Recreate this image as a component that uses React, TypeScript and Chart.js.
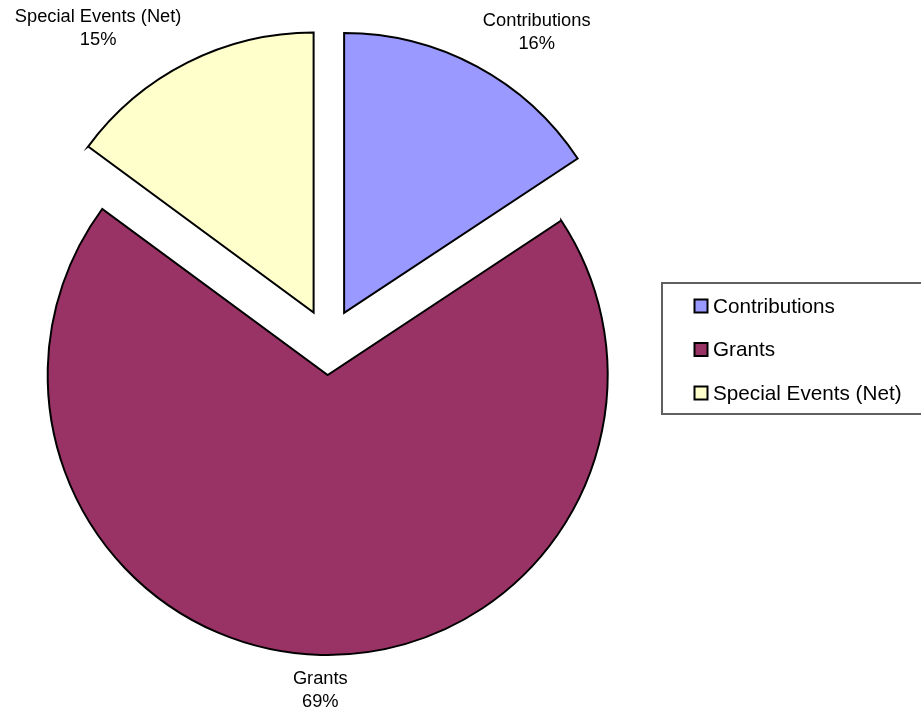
import React, { useEffect, useRef } from "react";
import { Chart, registerables } from "chart.js";

Chart.register(...registerables);

const categories = ["Contributions", "Grants", "Special Events (Net)"];
const shares = [15.7, 69.4, 14.9];
const sliceColors = ["#9999FF", "#993366", "#FFFFCC"];

const FONT = "'Liberation Sans', Arial, sans-serif";

const explodePlugin = {
  id: "explode",
  afterDatasetUpdate(chart: any, args: any, opts: any) {
    const d = opts.distance || 0;
    args.meta.data.forEach((el: any) => {
      const mid = (el.startAngle + el.endAngle) / 2;
      el.x += Math.cos(mid) * d;
      el.y += Math.sin(mid) * d;
    });
  },
};

const sliceLabelPlugin = {
  id: "sliceLabels",
  afterDatasetsDraw(chart: any, _args: any, opts: any) {
    const ctx = chart.ctx;
    const meta = chart.getDatasetMeta(0);
    const values: number[] = chart.data.datasets[0].data;
    const total = values.reduce((a, b) => a + b, 0);
    const gap = opts.gap;
    const lh = opts.lineHeight;
    ctx.save();
    ctx.font = `${opts.fontSize}px ${FONT}`;
    ctx.fillStyle = "#000";
    ctx.textAlign = "center";
    ctx.textBaseline = "middle";
    meta.data.forEach((el: any, i: number) => {
      const mid = (el.startAngle + el.endAngle) / 2;
      const c = Math.cos(mid);
      const s = Math.sin(mid);
      const px = el.x + c * (el.outerRadius + gap);
      const py = el.y + s * (el.outerRadius + gap);
      const lines = [String(chart.data.labels[i]), Math.round((values[i] / total) * 100) + "%"];
      const w = Math.max(...lines.map((t) => ctx.measureText(t).width));
      const h = lines.length * lh;
      let left = px - w / 2;
      if (c > 0.2) left = px;
      else if (c < -0.2) left = px - w;
      let top = py - h / 2;
      if (s < -0.2) top = py - h;
      else if (s > 0.2) top = py;
      lines.forEach((t, k) => {
        ctx.fillText(t, left + w / 2, top + lh * (k + 0.5));
      });
    });
    ctx.restore();
  },
};

const boxLegendPlugin = {
  id: "boxLegend",
  afterDraw(chart: any, _args: any, opts: any) {
    const ctx = chart.ctx;
    const ds = chart.data.datasets[0];
    ctx.save();
    ctx.strokeStyle = "#606060";
    ctx.lineWidth = 2;
    ctx.strokeRect(opts.left, opts.top, opts.width, opts.height);
    ctx.font = `${opts.fontSize}px ${FONT}`;
    ctx.textAlign = "left";
    ctx.textBaseline = "middle";
    chart.data.labels.forEach((lab: string, i: number) => {
      const cy = opts.top + opts.firstRow + i * opts.rowPitch;
      const sq = opts.square;
      ctx.fillStyle = ds.backgroundColor[i];
      ctx.fillRect(opts.left + opts.squareX, cy - sq / 2, sq, sq);
      ctx.strokeStyle = "#000";
      ctx.lineWidth = 2;
      ctx.strokeRect(opts.left + opts.squareX, cy - sq / 2, sq, sq);
      ctx.fillStyle = "#000";
      ctx.fillText(lab, opts.left + opts.textX, cy + 1);
    });
    ctx.restore();
  },
};

export default function App() {
  const ref = useRef<HTMLCanvasElement | null>(null);
  useEffect(() => {
    if (!ref.current) return;
    const chart = new Chart(ref.current, {
      type: "pie",
      data: {
        labels: categories,
        datasets: [
          {
            data: shares,
            backgroundColor: sliceColors,
            borderColor: "#000",
            borderWidth: 2,
            borderJoinStyle: "miter",
            radius: 280,
          } as any,
        ],
      },
      options: {
        animation: false,
        responsive: true,
        maintainAspectRatio: false,
        layout: { padding: { left: 0, right: 264, top: 0, bottom: 31 } },
        plugins: {
          legend: { display: false },
          tooltip: { enabled: false },
          explode: { distance: 33 },
          sliceLabels: { gap: 13, lineHeight: 22.5, fontSize: 18.3 },
          boxLegend: {
            left: 662,
            top: 283,
            width: 280,
            height: 131,
            fontSize: 20.7,
            firstRow: 23,
            rowPitch: 43.5,
            square: 13,
            squareX: 32.5,
            textX: 51,
          },
        } as any,
      },
      plugins: [explodePlugin, sliceLabelPlugin, boxLegendPlugin],
    });
    return () => chart.destroy();
  }, []);
  return (
    <div style={{ position: "absolute", left: 0, top: 0, width: 921, height: 715, background: "#fff" }}>
      <canvas ref={ref} />
    </div>
  );
}
